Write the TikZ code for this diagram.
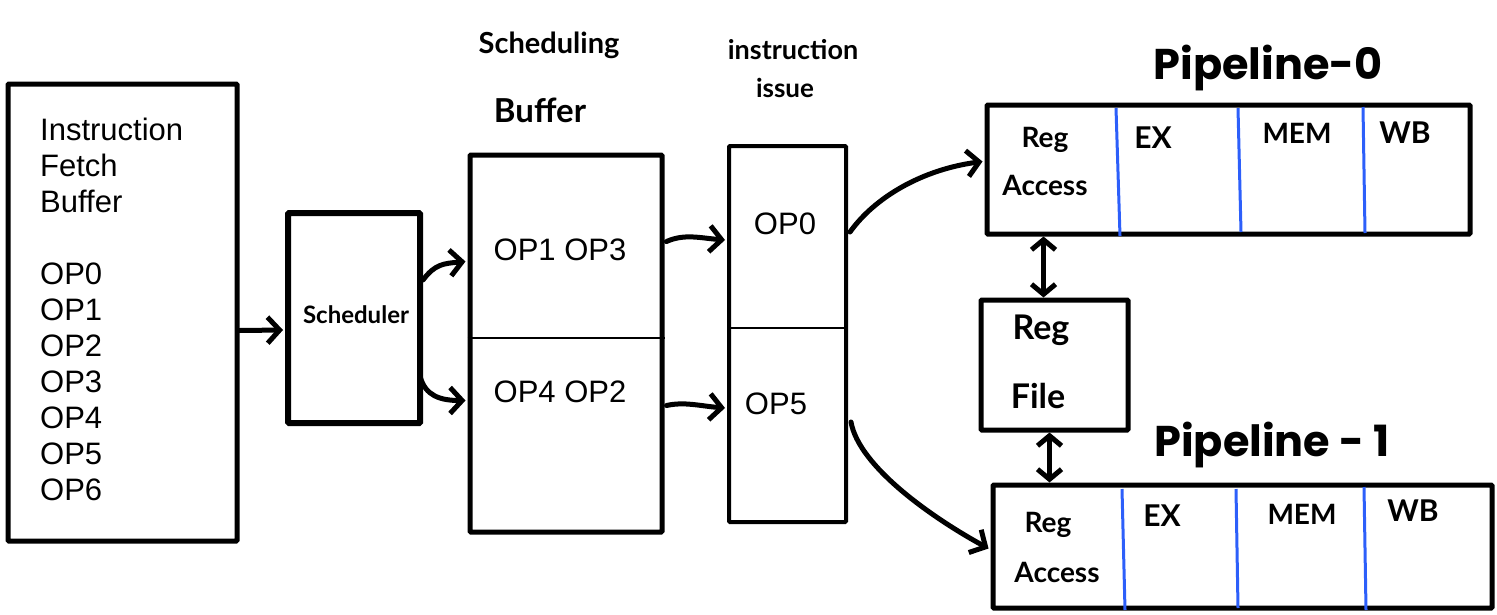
\documentclass[tikz,border=0pt]{standalone}
\usepackage{fontspec}
\setmainfont{Liberation Sans}
\newfontfamily\handfont{Lato}
\newfontfamily\titlefont{Poppins}
\usetikzlibrary{arrows.meta}
\usetikzlibrary{calc}

\definecolor{stageblue}{RGB}{45,95,250}

\begin{document}
\begin{tikzpicture}[x=1pt,y=1pt,yscale=-1,xscale=1,
  box/.style={draw,line width=5pt,inner sep=0pt,rounded corners=1pt},
  flow/.style={line width=5pt,line cap=round,-{Straight Barb[length=12pt,width=26pt,line width=5pt]}},
  both/.style={line width=5pt,{Straight Barb[length=10pt,width=24pt,line width=5pt]}-{Straight Barb[length=10pt,width=24pt,line width=5pt]}},
  split/.style={line width=2pt},
  stage/.style={color=stageblue,line width=3pt},
  print/.style={inner sep=0pt,font=\fontsize{31}{36}\selectfont},
  hand/.style={inner sep=0pt,font=\handfont\bfseries\fontsize{28}{34}\selectfont},
  title/.style={inner sep=0pt,font=\titlefont\bfseries\fontsize{43}{46}\selectfont}]
\useasboundingbox (0,0) rectangle (1497,614);

%Shape: Rectangle [fetch buffer]
\node (fetch) at (122.5,312.5) [box,minimum width=229pt,minimum height=457pt] {};
% Text Node
\node (fetchtxt) at (40,118) [print,anchor=north west,align=left] {Instruction\\Fetch\\Buffer\\[36pt]OP0\\OP1\\OP2\\OP3\\OP4\\OP5\\OP6};

%Shape: Rectangle [scheduler]
\node (sched) at (354,318) [box,line width=6pt,minimum width=132pt,minimum height=210pt] {};
% Text Node
\node (schedtxt) at (356,315) [hand,font=\handfont\bfseries\fontsize{24}{28}\selectfont] {Scheduler};

%Shape: Rectangle [scheduling buffer]
\node (sbuf) at (566,343.5) [box,minimum width=192pt,minimum height=377pt] {};
%Straight Lines
\draw [split] (sbuf.west |- 0,338) -- (sbuf.east |- 0,338) ;
% Text Node
\node (op13) at (560,250) [print] {OP1 OP3};
% Text Node
\node (op42) at (560,392) [print] {OP4 OP2};
% Text Node
\node (sbuflbl) at (549,45) [hand,font=\handfont\bfseries\fontsize{29}{34}\selectfont] {Scheduling};
% Text Node
\node (sbuflbl2) at (540,110) [hand,font=\handfont\bfseries\fontsize{33}{36}\selectfont] {Buffer};

%Shape: Rectangle [instruction issue]
\node (issue) at (787.5,334) [box,line width=4pt,minimum width=117pt,minimum height=376pt] {};
%Straight Lines
\draw [split] (issue.west |- 0,328) -- (issue.east |- 0,328) ;
% Text Node
\node (op0) at (785,224) [print] {OP0};
% Text Node
\node (op5) at (776,404) [print] {OP5};
% Text Node
\node (isslbl) at (793,50) [hand,font=\handfont\bfseries\fontsize{27}{30}\selectfont] {instruction};
% Text Node
\node (isslbl2) at (785,88) [hand,font=\handfont\bfseries\fontsize{26}{28}\selectfont] {issue};

%Shape: Rectangle [pipeline 0]
\node (pipe0) at (1228.5,169.5) [box,minimum width=483pt,minimum height=129pt] {};
%Straight Lines [pipeline stages]
\draw [stage] (1116,108) -- (1120,236) ;
\draw [stage] (1238,108) -- (1241,232) ;
\draw [stage] (1363,107) -- (1365,233) ;
% Text Node
\node (pipe0lbl) at (1268,68) [title] {Pipeline-0};
% Text Node
\node (ra0) at (1045,140) [hand] {Reg};
% Text Node
\node (ra0b) at (1045,185) [hand] {Access};
% Text Node
\node (ex0) at (1153,138) [hand,font=\handfont\bfseries\fontsize{30}{34}\selectfont] {EX};
% Text Node
\node (mem0) at (1297,133) [hand] {MEM};
% Text Node
\node (wb0) at (1405,133) [hand,font=\handfont\bfseries\fontsize{30}{34}\selectfont] {WB};

%Shape: Rectangle [register file]
\node (regfile) at (1054.5,365) [box,minimum width=147pt,minimum height=130pt] {};
% Text Node
\node (rf) at (1041,330) [hand,font=\handfont\bfseries\fontsize{34}{36}\selectfont] {Reg};
% Text Node
\node (rfb) at (1038,396) [hand,font=\handfont\bfseries\fontsize{34}{36}\selectfont] {File};

%Shape: Rectangle [pipeline 1]
\node (pipe1) at (1242.5,546.5) [box,minimum width=499pt,minimum height=123pt] {};
%Straight Lines [pipeline stages]
\draw [stage] (1122,489) -- (1125,610) ;
\draw [stage] (1236,489) -- (1238,608) ;
\draw [stage] (1364,487) -- (1366,610) ;
% Text Node
\node (pipe1lbl) at (1272,445) [title] {Pipeline - 1};
% Text Node
\node (ra1) at (1048,525) [hand] {Reg};
% Text Node
\node (ra1b) at (1057,572) [hand] {Access};
% Text Node
\node (ex1) at (1162,516) [hand,font=\handfont\bfseries\fontsize{30}{34}\selectfont] {EX};
% Text Node
\node (mem1) at (1302,514) [hand] {MEM};
% Text Node
\node (wb1) at (1413,511) [hand,font=\handfont\bfseries\fontsize{30}{34}\selectfont] {WB};

%Curve Lines [connectors]
\draw [flow] ($(fetch.east)+(0,18)$) -- ($(sched.west)+(-2,12)$) ;
\draw [flow] ($(sched.east)+(0,-38)$) .. controls +(12,-16) and +(-22,2) .. ($(sbuf.west)+(-2,-82)$) ;
\draw [flow] ($(sched.east)+(-3,58)$) .. controls +(5,20) and +(-25,0) .. ($(sbuf.west)+(-2,57)$) ;
\draw [flow] ($(sbuf.east)+(2,-102)$) .. controls +(18,-8) and +(-25,-2) .. ($(issue.west)+(-2,-94)$) ;
\draw [flow] ($(sbuf.east)+(2,62)$) .. controls +(18,-4) and +(-25,-2) .. ($(issue.west)+(-2,74)$) ;
\draw [flow] ($(issue.east)+(2,-102)$) .. controls +(25,-35) and +(-60,8) .. ($(pipe0.west)+(-2,-8)$) ;
\draw [flow] ($(issue.east)+(3,88)$) .. controls +(8,45) and +(-55,-30) .. ($(pipe1.west)+(-2,2)$) ;

%Straight Lines [register file ports]
\coordinate (rf0) at ($(regfile.north)+(-11,0)$);
\coordinate (rf1) at ($(regfile.south)+(-5,0)$);
\draw [both] (rf0) -- (rf0 |- pipe0.south) ;
\draw [both] (rf1) -- (rf1 |- pipe1.north) ;

\end{tikzpicture}
\end{document}
